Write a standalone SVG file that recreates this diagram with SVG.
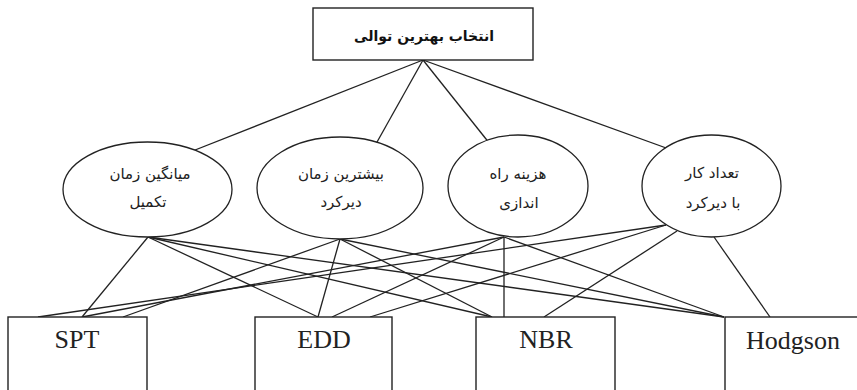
<svg xmlns="http://www.w3.org/2000/svg" width="857" height="390" viewBox="0 0 857 390">
<style>
  .edge { stroke: #222; stroke-width: 1.3; fill: none; }
  .box { fill: #fff; stroke: #222; stroke-width: 1.4; }
  .ell { fill: #fff; stroke: #222; stroke-width: 1.3; }
  .fa { font-family: "DejaVu Sans", sans-serif; font-size: 15px; fill: #222; text-anchor: middle; }
  .title { font-family: "DejaVu Sans", sans-serif; font-size: 14px; font-weight: bold; fill: #111; text-anchor: middle; }
  .en { font-family: "Liberation Serif", "Times New Roman", serif; font-size: 26px; fill: #222; text-anchor: middle; }
</style>
<rect width="857" height="390" fill="#fff"/>
<g id="connectors">
  <path class="edge" d="M423,60 L190,152"/>
  <path class="edge" d="M423,60 L372,151"/>
  <path class="edge" d="M423,60 L494,149"/>
  <path class="edge" d="M423,60 L680,153"/>
  <path class="edge" d="M148,237 L82,317"/>
  <path class="edge" d="M148,237 L318,317"/>
  <path class="edge" d="M148,237 L492,317"/>
  <path class="edge" d="M148,237 L724,317"/>
  <path class="edge" d="M340,239 L123,317"/>
  <path class="edge" d="M340,239 L318,317"/>
  <path class="edge" d="M340,239 L492,317"/>
  <path class="edge" d="M340,239 L724,317"/>
  <path class="edge" d="M504,237 L82,317"/>
  <path class="edge" d="M504,237 L332,317"/>
  <path class="edge" d="M504,237 L504,317"/>
  <path class="edge" d="M504,237 L724,317"/>
  <path class="edge" d="M666,225 L38,317"/>
  <path class="edge" d="M666,225 L370,317"/>
  <path class="edge" d="M677,231 L544,317"/>
  <path class="edge" d="M714,237 L770,317"/>
</g>
<g id="goal">
  <rect class="box" x="313" y="8" width="220" height="52"/>
  <text class="title" x="424" y="41" direction="rtl">انتخاب بهترین توالی</text>
</g>
<g id="c1">
  <ellipse class="ell" cx="147.5" cy="189.5" rx="84.5" ry="47.5"/>
  <text class="fa" x="150" y="179" direction="rtl">میانگین زمان</text>
  <text class="fa" x="148" y="207" direction="rtl">تکمیل</text>
</g>
<g id="c2">
  <ellipse class="ell" cx="340" cy="188" rx="83" ry="51"/>
  <text class="fa" x="341" y="179" direction="rtl">بیشترین زمان</text>
  <text class="fa" x="341" y="207" direction="rtl">دیرکرد</text>
</g>
<g id="c3">
  <ellipse class="ell" cx="518" cy="186" rx="70" ry="51"/>
  <text class="fa" x="518" y="179" direction="rtl">هزینه راه</text>
  <text class="fa" x="519" y="208" direction="rtl">اندازی</text>
</g>
<g id="c4">
  <ellipse class="ell" cx="711.5" cy="186" rx="69.5" ry="51"/>
  <text class="fa" x="712" y="178" direction="rtl">تعداد کار</text>
  <text class="fa" x="713" y="208" direction="rtl">با دیرکرد</text>
</g>
<g id="spt">
  <rect class="box" x="8" y="317" width="139" height="90"/>
  <text class="en" x="77" y="348">SPT</text>
</g>
<g id="edd">
  <rect class="box" x="255" y="317" width="137" height="90"/>
  <text class="en" x="324" y="348">EDD</text>
</g>
<g id="nbr">
  <rect class="box" x="476" y="317" width="139" height="90"/>
  <text class="en" x="546" y="348">NBR</text>
</g>
<g id="hodgson">
  <rect class="box" x="725" y="317" width="150" height="90"/>
  <text class="en" x="793" y="349">Hodgson</text>
</g>
</svg>
